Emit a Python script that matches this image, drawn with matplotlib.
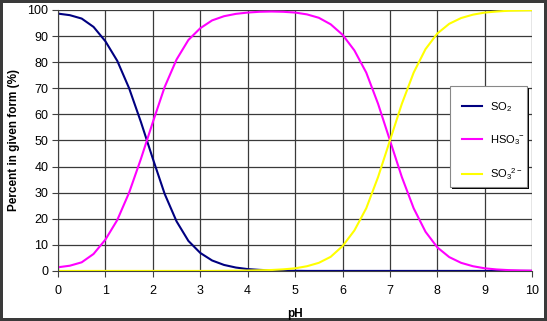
import numpy as np
import matplotlib.pyplot as plt
from matplotlib.patches import Rectangle

plt.rcParams['font.family'] = ['Liberation Sans', 'DejaVu Sans']
plt.rcParams['mathtext.fontset'] = 'custom'
plt.rcParams['mathtext.rm'] = 'Liberation Sans'

ph = np.arange(0, 10.01, 0.25)

so2 = [98.6, 98.0, 96.7, 93.5, 88.0, 80.5, 70.0, 57.0, 43.0, 29.5, 19.0, 11.5,
       6.9, 4.0, 2.3, 1.3, 0.7, 0.4, 0.2, 0.1, 0.05, 0, 0, 0, 0, 0, 0, 0,
       0, 0, 0, 0, 0, 0, 0, 0, 0, 0, 0, 0, 0]
hso3 = [1.4, 2.0, 3.3, 6.5, 12.0, 19.5, 30.0, 43.0, 57.0, 70.5, 81.0, 88.5,
        93.0, 96.0, 97.6, 98.5, 99.0, 99.3, 99.4, 99.3, 99.0, 98.3, 97.0, 94.5,
        90.5, 84.5, 76.0, 64.0, 50.0, 36.0, 24.0, 15.0, 9.0, 5.3, 3.1, 1.8,
        1.0, 0.56, 0.31, 0.18, 0.1]
so3 = [0, 0, 0, 0, 0, 0, 0, 0, 0, 0, 0, 0,
       0, 0, 0.05, 0.1, 0.15, 0.25, 0.35, 0.6, 1.0, 1.8, 3.1, 5.4,
       9.5, 15.5, 24.0, 36.0, 50.0, 64.0, 76.0, 85.0, 91.0, 94.7, 96.9, 98.2,
       99.0, 99.4, 99.7, 99.8, 99.9]

labels = [r'SO$_\mathregular{2}$', r'HSO$_\mathregular{3}{}^\mathregular{-}$',
          r'SO$_\mathregular{3}{}^\mathregular{2-}$']

fig = plt.figure(figsize=(5.47, 3.21), dpi=100)
fig.patch.set_edgecolor('#3a3a3a')
fig.patch.set_linewidth(3)
ax = fig.add_axes([0.106, 0.156, 0.867, 0.813])

ax.set_xlim(0, 10)
ax.set_ylim(0, 100)
ax.set_xticks(range(0, 11))
ax.set_yticks(range(0, 101, 10))
ax.grid(True, color='#3a3a3a', linewidth=0.9)
ax.set_axisbelow(True)

l1, = ax.plot(ph, so2, color='#000080', lw=1.5)
l2, = ax.plot(ph, hso3, color='#ff00ff', lw=1.5)
l3, = ax.plot(ph, so3, color='#ffff00', lw=1.5)

for s in ['top', 'right']:
    ax.spines[s].set_visible(False)
for s in ['left', 'bottom']:
    ax.spines[s].set_color('#404040')
ax.tick_params(labelsize=9, length=4, color='#404040', pad=3)
ax.tick_params(axis='x', pad=6)
ax.set_xlabel('pH', fontsize=8.5, fontweight='bold', labelpad=8)
ax.set_ylabel('Percent in given form (%)', fontsize=8.5, fontweight='bold', labelpad=5)

# legend box with shadow
lx0, ly0, lw, lh = 450 / 547, 1 - 187 / 321, 77 / 547, 101 / 321
fig.patches.append(Rectangle((lx0 + 0.004, ly0 - 0.006), lw, lh, transform=fig.transFigure,
                             facecolor='black', edgecolor='none', zorder=5))
fig.patches.append(Rectangle((lx0, ly0), lw, lh, transform=fig.transFigure,
                             facecolor='white', edgecolor='#888888', lw=0.8, zorder=6))
leg = fig.legend([l1, l2, l3], labels, loc='upper left',
                 bbox_to_anchor=(lx0 + 0.004, ly0 + lh - 0.012), frameon=False,
                 fontsize=8, handlelength=1.8, handletextpad=0.7, labelspacing=1.75)
leg.set_zorder(7)

fig.savefig('out.png', dpi=100)
